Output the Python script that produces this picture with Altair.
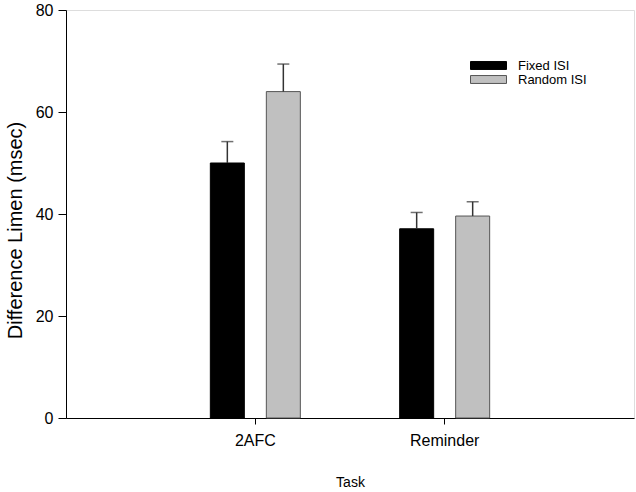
import altair as alt
import pandas as pd

tasks = ["2AFC", "2AFC", "Reminder", "Reminder"]
isi = ["Fixed ISI", "Random ISI", "Fixed ISI", "Random ISI"]
means = [50.0, 64.0, 37.1, 39.6]
upper = [54.2, 69.4, 40.3, 42.4]

df = pd.DataFrame({"task": tasks, "isi": isi, "mean": means, "upper": upper})

FONT = "Liberation Sans"
isi_order = ["Fixed ISI", "Random ISI"]

x = alt.X("task:N", sort=["2AFC", "Reminder"],
          scale=alt.Scale(paddingInner=0, paddingOuter=0.5),
          axis=alt.Axis(title="Task", labelAngle=0, labelFontSize=16, labelPadding=8,
                        titleFontSize=14, titleFontWeight="normal", titlePadding=27,
                        tickSize=6, tickColor="#000", domainColor="#000",
                        labelColor="#000", titleColor="#000", labelFont=FONT, titleFont=FONT))
xo = alt.XOffset("isi:N", sort=isi_order,
                 scale=alt.Scale(paddingInner=0.393, paddingOuter=0.887))

bars = alt.Chart(df).mark_bar(strokeWidth=1).encode(
    x=x, xOffset=xo,
    y=alt.Y("mean:Q", scale=alt.Scale(domain=[0, 80], nice=False),
            axis=alt.Axis(title="Difference Limen (msec)", values=[0, 20, 40, 60, 80],
                          grid=False, labelFontSize=16, labelPadding=5, tickSize=8,
                          titleFontSize=20, titleFontWeight="normal", titlePadding=10,
                          titleY=220,
                          tickColor="#000", domainColor="#000", labelColor="#000",
                          titleColor="#000", labelFont=FONT, titleFont=FONT)),
    fill=alt.Fill("isi:N", sort=isi_order,
                  scale=alt.Scale(domain=isi_order, range=["#000000", "#c0c0c0"]),
                  legend=alt.Legend(title=None, orient="none", legendX=416, legendY=49,
                                    symbolType="M-3,-0.66H3V0.66H-3Z", symbolSize=144,
                                    symbolStrokeWidth=1, labelFontSize=13, labelFont=FONT,
                                    labelColor="#000", labelOffset=23, rowPadding=0,
                                    padding=0)),
    stroke=alt.Stroke("isi:N", sort=isi_order,
                      scale=alt.Scale(domain=isi_order, range=["#000000", "#555555"]),
                      legend=None),
)

rules = alt.Chart(df).mark_rule(color="#333333", strokeWidth=1.5).encode(
    x=x, xOffset=xo, y="mean:Q", y2="upper:Q")

caps = alt.Chart(df).mark_tick(orient="horizontal", color="#333333", size=12,
                               thickness=1.5).encode(
    x=x, xOffset=xo, y="upper:Q")

chart = alt.layer(bars, rules, caps).properties(
    width=568, height=408,
    autosize=alt.AutoSizeParams(type="none"),
    padding={"left": 66, "top": 10, "right": 2, "bottom": 74},
).configure_view(stroke="#333333", strokeWidth=1).configure(
    background="white")

chart.save("out.html", embed_options={"renderer": "svg", "actions": False})
